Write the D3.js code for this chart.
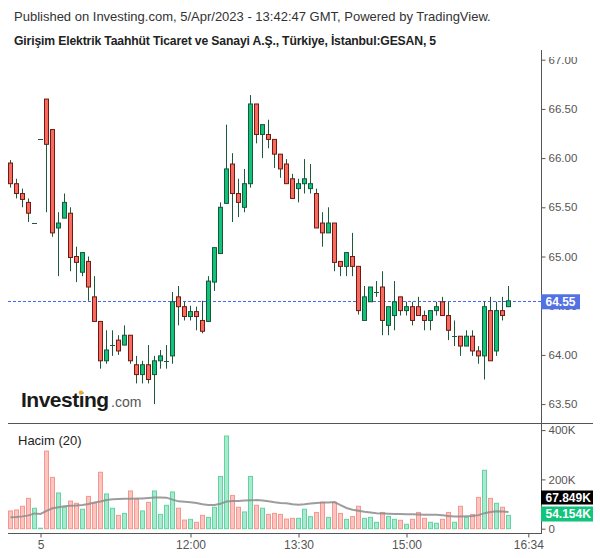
<!DOCTYPE html>
<html><head><meta charset="utf-8">
<script src="https://cdn.jsdelivr.net/npm/d3@7"></script>
<style>
html,body{margin:0;padding:0;background:#fff;}
svg{display:block;font-family:"Liberation Sans",Arial,sans-serif;}
</style></head>
<body>
<script>
// ---- data ----
const opens  = [65.95,65.74,65.64,65.55,65.34,66.19,66.60,66.29,65.29,65.39,65.44,65.00,64.84,64.95,64.59,64.34,63.94,64.10,64.15,64.10,64.20,63.90,63.80,63.90,63.80,63.94,63.94,63.99,64.59,64.49,64.39,64.44,64.35,64.34,64.74,65.03,65.54,65.94,65.64,65.50,65.74,66.55,66.24,66.24,66.19,66.04,65.94,65.79,65.69,65.74,65.69,65.64,65.34,65.24,65.34,64.95,64.90,65.00,64.90,64.35,64.54,64.64,64.69,64.30,64.40,64.59,64.45,64.49,64.49,64.40,64.35,64.45,64.54,64.40,64.19,64.19,64.09,64.19,64.04,63.99,64.45,64.04,64.45,64.49];
const highs  = [65.98,65.79,65.69,65.59,65.34,66.19,66.60,66.29,65.45,65.64,65.50,65.10,65.04,65.00,64.80,64.34,64.25,64.25,64.20,64.30,64.20,63.99,63.94,64.10,63.99,64.05,64.10,64.64,64.70,64.54,64.50,64.49,64.55,64.80,65.09,65.55,66.34,66.05,65.79,65.89,66.64,66.55,66.34,66.39,66.19,66.04,65.99,65.84,65.79,65.99,65.94,65.69,65.45,65.50,65.34,64.95,65.04,65.24,64.90,64.70,64.69,64.75,64.85,64.49,64.75,64.59,64.54,64.54,64.59,64.45,64.45,64.54,64.59,64.54,64.35,64.19,64.25,64.25,64.09,64.54,64.59,64.54,64.59,64.70];
const lows   = [65.70,65.59,65.50,65.35,65.34,66.19,65.45,65.20,64.80,65.39,64.85,64.74,64.80,64.55,64.34,63.86,63.91,63.99,64.00,64.10,63.91,63.71,63.71,63.71,63.50,63.86,63.86,63.91,64.30,64.35,64.35,64.25,64.22,64.34,64.65,65.03,65.54,65.35,65.40,65.45,65.70,66.15,66.00,66.10,65.90,65.80,65.74,65.59,65.55,65.64,65.64,65.29,65.10,65.24,64.85,64.80,64.80,64.80,64.41,64.35,64.54,64.59,64.20,64.20,64.25,64.40,64.40,64.30,64.40,64.25,64.25,64.40,64.40,64.15,64.09,63.99,64.09,63.99,63.91,63.75,63.94,63.99,64.35,64.49];
const closes = [65.74,65.64,65.58,65.44,65.34,66.19,66.14,65.24,65.34,65.55,64.99,64.94,65.04,64.69,64.34,63.94,64.05,64.10,64.04,64.20,63.94,63.80,63.90,63.75,63.94,63.99,63.94,64.54,64.49,64.39,64.44,64.39,64.24,64.75,65.09,65.50,65.89,65.64,65.55,65.74,66.55,66.24,66.34,66.19,66.04,65.89,65.74,65.59,65.74,65.79,65.74,65.29,65.24,65.34,64.94,64.90,65.04,64.90,64.45,64.59,64.69,64.64,64.35,64.49,64.54,64.45,64.49,64.35,64.40,64.35,64.45,64.49,64.40,64.25,64.19,64.09,64.19,64.04,63.99,64.49,63.94,64.45,64.40,64.55];
const volumes = [72,76,91,123,83,2,315,208,145,87,112,103,79,131,103,229,141,83,54,62,153,119,72,107,153,58,95,149,83,35,38,26,54,46,87,212,376,135,87,68,212,95,83,58,62,58,39,42,42,79,49,66,107,46,107,62,38,49,91,42,46,26,66,50,38,34,18,38,66,42,26,22,38,66,26,91,46,58,127,237,123,103,87,54];
const volumeMA = [46,47,50,54,62,60,72,83,87,91,93,94,96,100,106,110,116,119,120,121,122,123,123,125,127,127,126,118,111,109,107,104,99,96,96,101,110,112,112,114,115,116,114,111,107,104,103,99,97,99,102,104,106,106,108,96,84,77,73,69,66,63,62,61,60,60,59,59,58,57,57,57,55,52,50,50,51,52,55,63,68,71,70,68];
const timeTickPos = [5,30,48,66,86.3];
const timeTickLabels = ["5","12:00","13:30","15:00","16:34"];
const priceTicks = [63.5,64.0,64.5,65.0,65.5,66.0,66.5,67.0];
const volumeTicks = [0,200,400];
const lastPrice = 64.55, lastVolMA = 67.849, lastVol = 54.154;
const titleLine1 = "Published on Investing.com, 5/Apr/2023 - 13:42:47 GMT, Powered by TradingView.";
const titleLine2 = "Girişim Elektrik Taahhüt Ticaret ve Sanayi A.Ş., Türkiye, İstanbul:GESAN, 5";

const W=600,H=558;
const svg=d3.select("body").append("svg").attr("width",W).attr("height",H);
svg.append("rect").attr("width",W).attr("height",H).attr("fill","#fff");

const n=opens.length;
const x=d3.scaleLinear().domain([0,n-1]).range([10.5,10.5+6*(n-1)]);
const yP=d3.scaleLinear().domain([63.5,67]).range([404.1,59.7]);
const yV=d3.scaleLinear().domain([0,400]).range([528.7,430.1]);
const axisX=541.5;

// header
svg.append("text").attr("x",14).attr("y",21).attr("font-size",13).attr("fill","#333").text(titleLine1);
svg.append("text").attr("x",14).attr("y",45).attr("font-size",12.2).attr("font-weight","bold").attr("letter-spacing",-0.15).attr("fill","#222").text(titleLine2);

// logo
const logo=svg.append("g");
const lt=logo.append("text").attr("x",21).attr("y",407).attr("font-size",21).attr("font-weight","bold").attr("fill","#1a1a1a").attr("letter-spacing",-0.5).text("Investing");
logo.append("text").attr("x",111).attr("y",407).attr("font-size",14).attr("fill","#555").text(".com");
try{
  const a=lt.node().getSubStringLength(0,6), b=lt.node().getSubStringLength(6,1);
  logo.append("circle").attr("cx",21+a+b/2-0.4).attr("cy",392.6).attr("r",2.2).attr("fill","#f5a623");
}catch(e){}

// price axis labels (clipped at top)
svg.append("defs").append("clipPath").attr("id","axclip").append("rect").attr("x",0).attr("y",57).attr("width",W).attr("height",H);
const gPA=svg.append("g").attr("transform",`translate(${axisX},0)`).attr("clip-path","url(#axclip)")
  .call(d3.axisRight(yP).tickValues(priceTicks).tickFormat(d3.format(".2f")).tickSize(4).tickPadding(3));
gPA.select(".domain").remove();
gPA.selectAll("line").attr("stroke","#555");
gPA.selectAll("text").attr("font-size",11.5).attr("fill","#555").attr("font-family","Liberation Sans, Arial, sans-serif");

// volume axis
const gVA=svg.append("g").attr("transform",`translate(${axisX},0)`)
  .call(d3.axisRight(yV).tickValues(volumeTicks).tickFormat(d=>d===0?"0":d+"K").tickSize(4).tickPadding(3));
gVA.select(".domain").remove();
gVA.selectAll("line").attr("stroke","#555");
gVA.selectAll("text").attr("font-size",11.5).attr("fill","#555").attr("font-family","Liberation Sans, Arial, sans-serif");

// x axis
const gXA=svg.append("g").attr("transform","translate(0,533.5)")
  .call(d3.axisBottom(x).tickValues(timeTickPos).tickFormat((d,i)=>timeTickLabels[i]).tickSize(4).tickPadding(3));
gXA.select(".domain").remove();
gXA.selectAll("line").attr("stroke","#555");
gXA.selectAll("text").attr("font-size",12).attr("fill","#555").attr("font-family","Liberation Sans, Arial, sans-serif");

// frame lines
svg.append("line").attr("x1",axisX).attr("x2",axisX).attr("y1",50).attr("y2",534).attr("stroke","#555");
svg.append("line").attr("x1",8).attr("x2",593).attr("y1",423.5).attr("y2",423.5).attr("stroke","#555");
svg.append("line").attr("x1",8).attr("x2",axisX).attr("y1",533.5).attr("y2",533.5).attr("stroke","#555");

// "Hacim (20)"
svg.append("text").attr("x",18).attr("y",445).attr("font-size",13).attr("fill","#222").text("Hacim (20)");

// volume bars
const idx=d3.range(n);
const up=i=>closes[i]>=opens[i];
svg.append("g").selectAll("rect").data(idx).join("rect")
  .attr("x",i=>x(i)-2).attr("width",4)
  .attr("y",i=>yV(volumes[i])).attr("height",i=>Math.max(0.5,yV(0)-yV(volumes[i])))
  .attr("fill",i=>up(i)?"#a7ebcf":"#ffc4c0")
  .attr("stroke",i=>up(i)?"#62d4a3":"#f3988f").attr("stroke-width",1);

// volume MA
svg.append("path").datum(idx)
  .attr("d",d3.line().x(i=>x(i)).y(i=>yV(volumeMA[i])))
  .attr("fill","none").attr("stroke","#8c8c8c").attr("stroke-width",2).attr("stroke-opacity",0.85);

// last price dashed line
svg.append("line").attr("x1",8).attr("x2",axisX).attr("y1",Math.round(yP(lastPrice))+0.5).attr("y2",Math.round(yP(lastPrice))+0.5)
  .attr("stroke","#4468ee").attr("stroke-width",1).attr("stroke-dasharray","3,2");

// candles
const wick="#1b5a3b";
const gc=svg.append("g");
gc.selectAll("line.w").data(idx).join("line").attr("class","w")
  .attr("x1",i=>x(i)).attr("x2",i=>x(i)).attr("y1",i=>yP(highs[i])).attr("y2",i=>yP(lows[i]))
  .attr("stroke",wick).attr("stroke-width",1);
gc.selectAll("rect").data(idx.filter(i=>opens[i]!==closes[i])).join("rect")
  .attr("x",i=>x(i)-2).attr("width",4)
  .attr("y",i=>yP(Math.max(opens[i],closes[i])))
  .attr("height",i=>Math.max(1,yP(Math.min(opens[i],closes[i]))-yP(Math.max(opens[i],closes[i]))))
  .attr("fill",i=>up(i)?"#12c27a":"#f96b5e")
  .attr("stroke",i=>up(i)?"#15593a":"#701a14").attr("stroke-width",1);
gc.selectAll("line.d").data(idx.filter(i=>opens[i]===closes[i])).join("line").attr("class","d")
  .attr("x1",i=>x(i)-2.5).attr("x2",i=>x(i)+2.5).attr("y1",i=>Math.round(yP(opens[i]))+0.5).attr("y2",i=>Math.round(yP(opens[i]))+0.5)
  .attr("stroke",wick).attr("stroke-width",1);

// value labels on axis
function tag(yc,h,w,fill,label){
  const g=svg.append("g");
  g.append("rect").attr("x",axisX-0.5).attr("y",yc-h/2).attr("width",w).attr("height",h).attr("fill",fill);
  g.append("text").attr("x",axisX+4).attr("y",yc+4.3).attr("font-size",12).attr("font-weight","bold").attr("fill","#fff").text(label);
}
tag(yP(lastPrice)+1,15,39,"#5271e4",d3.format(".2f")(lastPrice));
tag(497.5,14,52,"#000",lastVolMA.toFixed(3)+"K");
tag(514,15,52,"#10c47c",lastVol.toFixed(3)+"K");
</script>
</body></html>
